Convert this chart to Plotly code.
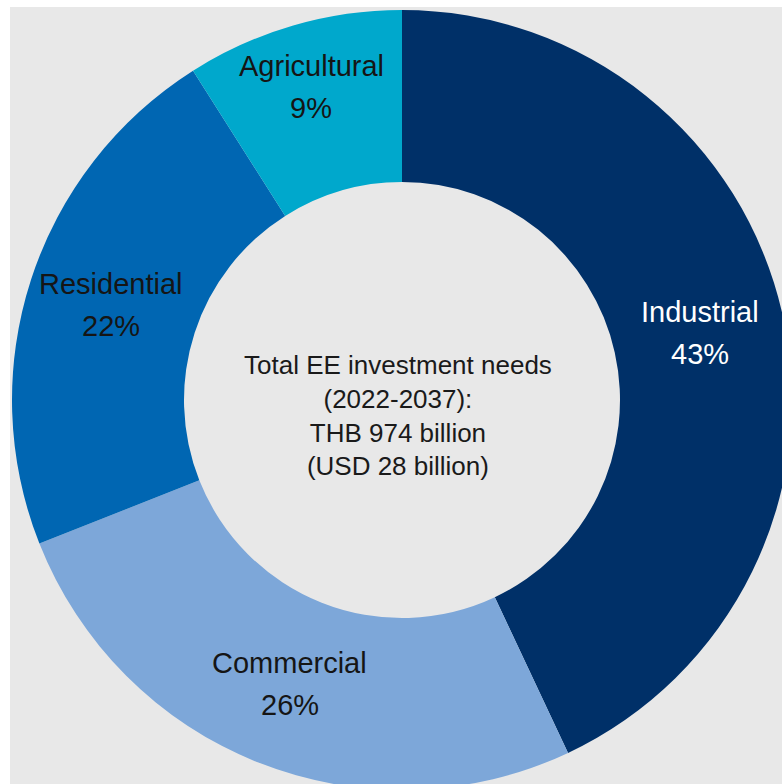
import math
import plotly.graph_objects as go

# Shares of total energy-efficiency investment needs by sector (%)
sectors = ["Industrial", "Commercial", "Residential", "Agricultural"]
shares = [43, 26, 22, 9]
center_lines = [
    "Total EE investment needs",
    "(2022-2037):",
    "THB 974 billion",
    "(USD 28 billion)",
]

# Styling
slice_colors = ["#003068", "#7da7d9", "#0066b2", "#00a8cc"]
label_colors = ["#ffffff", "#151515", "#151515", "#151515"]
label_radius = [305, 305, 306, 326]  # px from centre, per slice
FONT = "Liberation Sans, Arial, Helvetica, sans-serif"

W, H = 800, 800
CX, CY = 402, 400          # donut centre (px from top-left)
R_OUT, R_IN = 390, 218     # outer / inner radius (px)


def px(x):
    return x / W


def py(y):
    return 1 - y / H


fig = go.Figure(
    go.Pie(
        labels=sectors,
        values=shares,
        sort=False,
        direction="clockwise",
        rotation=0,
        hole=R_IN / R_OUT,
        marker=dict(colors=slice_colors, line=dict(width=0)),
        textinfo="none",
        hoverinfo="label+percent",
        domain=dict(x=[px(CX - R_OUT), px(CX + R_OUT)],
                    y=[py(CY + R_OUT), py(CY - R_OUT)]),
    )
)

# Sector labels at the mid-angle of each slice
total = sum(shares)
annotations = []
cum = 0
for name, val, col, rad in zip(sectors, shares, label_colors, label_radius):
    mid = (cum + val / 2) / total * 2 * math.pi
    cum += val
    lx = CX + rad * math.sin(mid)
    ly = CY - rad * math.cos(mid)
    for text, dy in ((name, -21), (f"{round(val / total * 100)}%", 21)):
        annotations.append(dict(
            x=px(lx), y=py(ly + dy), xref="paper", yref="paper",
            text=text, showarrow=False, xanchor="center", yanchor="middle",
            font=dict(family=FONT, size=29, color=col),
        ))

# Centre caption
annotations.append(dict(
    x=px(398), y=py(415), xref="paper", yref="paper",
    text="<br>".join(center_lines), showarrow=False,
    xanchor="center", yanchor="middle", align="center",
    font=dict(family=FONT, size=26, color="#1a1a1a"),
))

fig.update_layout(
    width=W, height=H,
    margin=dict(l=0, r=0, t=0, b=0),
    paper_bgcolor="#ffffff",
    showlegend=False,
    annotations=annotations,
    shapes=[dict(type="rect", xref="paper", yref="paper",
                 x0=px(10), x1=1, y0=0, y1=py(7),
                 fillcolor="#e8e8e8", line=dict(width=0), layer="below")],
)

fig.write_html(
    "out.html",
    config={"displayModeBar": False},
    post_script="document.documentElement.style.overflow='hidden';"
                "document.body.style.overflow='hidden';"
                "document.body.style.margin='0';",
)
